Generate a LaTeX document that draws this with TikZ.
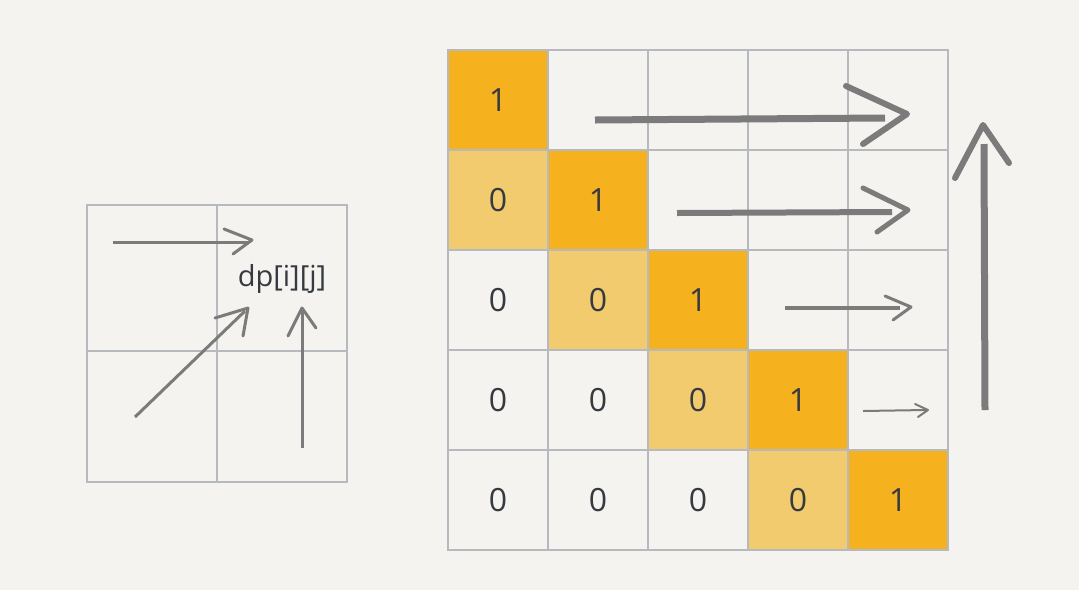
\documentclass[tikz,border=0pt]{standalone}
\usepackage{fontspec}
\setmainfont{Open Sans}
\usetikzlibrary{calc}
\definecolor{paper}{HTML}{F4F3F0}
\definecolor{gridline}{HTML}{B6B9BE}
\definecolor{diag}{HTML}{F6B11F}
\definecolor{subdiag}{HTML}{F3CB6F}
\definecolor{pencil}{HTML}{7B7B7B}
\definecolor{ink}{HTML}{363A40}

\begin{document}
\begin{tikzpicture}[x=1pt,y=-1pt,
    cell/.style={draw=gridline,line width=2pt,minimum size=100pt,inner sep=0pt,
      text=ink,font=\fontsize{32}{38}\selectfont},
    stroke/.style={draw=pencil,line join=round},
    head/.style={draw=pencil,line cap=round,line join=round}]
  \useasboundingbox[fill=paper] (0,0) rectangle (1079,590);

  % small grid
  \draw[gridline,line width=2pt] (87,205) rectangle (347,482);
  \draw[gridline,line width=2pt] (217,205) -- (217,482);
  \draw[gridline,line width=2pt] (87,351) -- (347,351);
  \node[text=ink,font=\fontsize{29}{34}\selectfont] (dp) at (282,279) {dp[i][j]};

  \draw[stroke,line width=3pt] (113,242) -- (249,242);
  \draw[head,line width=3pt] (224,229) -- (252,240) -- (233,254);
  \draw[stroke,line width=3pt] (135,417) -- (245,311);
  \draw[head,line width=3pt] (215,318) -- (248,308) -- (243,336);
  \draw[stroke,line width=3pt] (302,448) -- (302,311);
  \draw[head,line width=3pt] (288,336) -- (302,308) -- (316,328);

  % dp table
  \foreach \r in {0,...,4}{
    \foreach \c in {0,...,4}{
      \pgfmathtruncatemacro{\d}{\r-\c}
      \ifnum\d=0
        \node[cell,fill=diag] (c\r\c) at (498+100*\c,100+100*\r) {1};
      \else\ifnum\d=1
        \node[cell,fill=subdiag] (c\r\c) at (498+100*\c,100+100*\r) {0};
      \else\ifnum\d>1
        \node[cell] (c\r\c) at (498+100*\c,100+100*\r) {0};
      \else
        \node[cell] (c\r\c) at (498+100*\c,100+100*\r) {};
      \fi\fi\fi
    }
  }

  % fill order
  \draw[stroke,line width=7pt] (595,120) -- (885,118);
  \draw[head,line width=6pt] (846,86) -- (907,114) -- (863,144);
  \draw[stroke,line width=6pt] (677,213) -- (892,212);
  \draw[head,line width=5pt] (863,188) -- (908,210) -- (877,232);
  \draw[stroke,line width=3.5pt] (785,308) -- (900,308);
  \draw[head,line width=3pt] (885,296) -- (911,307) -- (893,320);
  \draw[stroke,line width=2pt] (863,411) -- (926,410);
  \draw[head,line width=2pt] (915,404) -- (928,410) -- (918,417);
  \draw[stroke,line width=7pt] (985,410) -- (984,144);
  \draw[head,line width=6pt] (955,178) -- (983,125) -- (1009,163);
\end{tikzpicture}
\end{document}
